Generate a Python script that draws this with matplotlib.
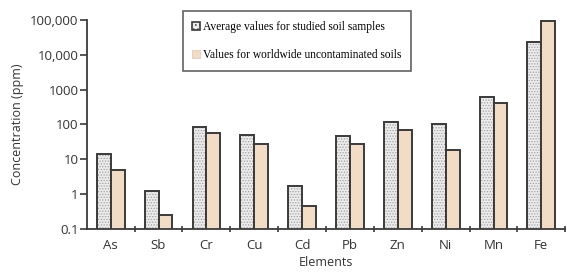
import matplotlib.pyplot as plt
import numpy as np
from matplotlib.patches import Patch
from matplotlib.ticker import FixedLocator, NullLocator

elements = ["As", "Sb", "Cr", "Cu", "Cd", "Pb", "Zn", "Ni", "Mn", "Fe"]
studied = [14, 1.2, 85, 50, 1.7, 48, 115, 105, 620, 24000]
worldwide = [5, 0.26, 58, 28, 0.47, 27, 70, 19, 420, 95000]
ytick_vals = [0.1, 1, 10, 100, 1000, 10000, 100000]
ytick_labels = ["0.1", "1", "10", "100", "1000", "10,000", "100,000"]

plt.rcParams["hatch.linewidth"] = 0.6

fig = plt.figure(figsize=(5.67, 2.73), dpi=100)
ax = fig.add_axes([0.153, 0.161, 0.844, 0.766])

x = np.arange(len(elements)) + 0.5
w = 0.29
edge = "#3a3a3a"

ax.set_yscale("log")
# dotted bars: hatch layer first, then outline on top
ax.bar(x - w / 2, studied, w, color="#ececec", edgecolor="#a0a0a0",
       hatch="......", linewidth=0)
ax.bar(x - w / 2, studied, w, fill=False, edgecolor=edge, linewidth=1.4)
ax.bar(x + w / 2, worldwide, w, color="#f3dcc6", edgecolor=edge, linewidth=1.4)

ax.set_ylim(0.1, 100000)
ax.set_xlim(0, len(elements))
ax.yaxis.set_major_locator(FixedLocator(ytick_vals))
ax.yaxis.set_minor_locator(NullLocator())
ax.set_yticklabels(ytick_labels, fontfamily="Open Sans", fontsize=9.5, color="#333333")
ax.set_xticks(x)
ax.set_xticklabels(elements, fontfamily="Open Sans", fontsize=9.5, color="#333333")
ax.set_xticks(np.arange(1, len(elements) + 1), minor=True)
ax.tick_params(axis="x", which="major", length=0, pad=7)
ax.tick_params(axis="x", which="minor", length=4, width=1.2, color=edge, direction="inout")
ax.tick_params(axis="y", length=5, width=1.2, color=edge, pad=1)

for s in ["top", "right"]:
    ax.spines[s].set_visible(False)
for s in ["left", "bottom"]:
    ax.spines[s].set_linewidth(1.3)
    ax.spines[s].set_color(edge)

ax.set_xlabel("Elements", fontfamily="Open Sans", fontsize=9, color="#333333", labelpad=3)
ax.set_ylabel("Concentration (ppm)", fontfamily="Open Sans", fontsize=9, color="#333333", labelpad=4)

handles = [
    Patch(facecolor="#ececec", edgecolor=edge, hatch="....", linewidth=1.2,
          label="Average values for studied soil samples"),
    Patch(facecolor="#f3dcc6", edgecolor="#e6d2c0", linewidth=0.8,
          label="Values for worldwide uncontaminated soils"),
]
leg = fig.legend(handles=handles, loc="upper left", bbox_to_anchor=(0.322, 0.96),
                 prop={"family": "Liberation Serif", "size": 8.3}, frameon=True,
                 fancybox=False, edgecolor=edge, handlelength=0.7, handleheight=0.7,
                 handletextpad=0.2, labelspacing=1.45, borderpad=0.85, borderaxespad=0)
leg.get_frame().set_linewidth(1.2)

fig.savefig("out.png", dpi=100)
